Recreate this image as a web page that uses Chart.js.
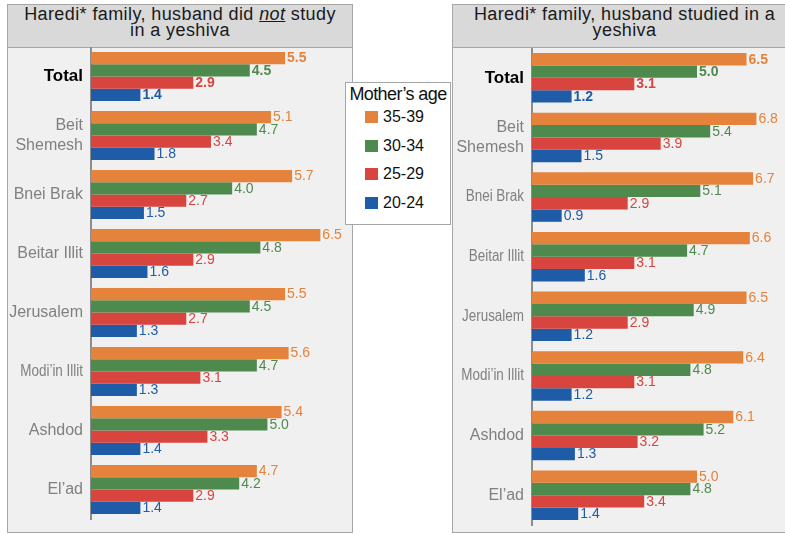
<!DOCTYPE html>
<html>
<head>
<meta charset="utf-8">
<script src="https://cdn.jsdelivr.net/npm/chart.js@4.4.1/dist/chart.umd.min.js"></script>
<style>
  body { margin: 0; width: 785px; height: 534px; background: #fff; position: relative; overflow: hidden;
         font-family: "Liberation Sans", Arial, sans-serif; }
  .panel { position: absolute; top: 4px; height: 529px; border: 1.5px solid #a6a6a6; background: #eff0ef; box-sizing: border-box; }
  .title { height: 43px; background: #d9d9d9; border-bottom: 1.5px solid #a6a6a6; box-sizing: border-box;
           font-size: 18px; line-height: 16px; letter-spacing: 0.4px; text-align: center; color: #1a1a1a; padding-top: 1px; }
  canvas { position: absolute; }
  #legend { position: absolute; left: 345px; top: 82px; width: 106px; height: 143px; background: #fff;
            border: 1px solid #a6a6a6; box-sizing: border-box; }
  #legend .lt { font-size: 18px; color: #111; text-align: center; margin-top: 1px; letter-spacing: -0.6px; }
  #legend .item { position: absolute; left: 19px; font-size: 16px; color: #111; }
  #legend .sw { display: inline-block; width: 13px; height: 12px; vertical-align: -1px; margin-right: 5px; }
</style>
</head>
<body>

<div class="panel" style="left:7px; width:346px;">
  <div class="title">Haredi* family, husband did <u><i>not</i></u> study<br>in a yeshiva</div>
</div>
<div class="panel" style="left:452px; width:345px;">
  <div class="title">Haredi* family, husband studied in a<br>yeshiva</div>
</div>

<canvas id="leftChart" width="343" height="483" style="left:8px; top:47px;"></canvas>
<canvas id="rightChart" width="332" height="483" style="left:453px; top:48px;"></canvas>

<div id="legend"><div class="lt">Mother’s age</div></div>

<script>
// --- Data ---
const cities = ["Total", ["Beit", "Shemesh"], "Bnei Brak", "Beitar Illit", "Jerusalem", "Modi’in Illit", "Ashdod", "El’ad"];
const ageGroups = ["35-39", "30-34", "25-29", "20-24"];
const colors = ["#e5823b", "#4e8a4e", "#d8453f", "#1f5ca7"];

// husband did not study in a yeshiva
const notStudied3539 = [5.5, 5.1, 5.7, 6.5, 5.5, 5.6, 5.4, 4.7];
const notStudied3034 = [4.5, 4.7, 4.0, 4.8, 4.5, 4.7, 5.0, 4.2];
const notStudied2529 = [2.9, 3.4, 2.7, 2.9, 2.7, 3.1, 3.3, 2.9];
const notStudied2024 = [1.4, 1.8, 1.5, 1.6, 1.3, 1.3, 1.4, 1.4];

// husband studied in a yeshiva
const studied3539 = [6.5, 6.8, 6.7, 6.6, 6.5, 6.4, 6.1, 5.0];
const studied3034 = [5.0, 5.4, 5.1, 4.7, 4.9, 4.8, 5.2, 4.8];
const studied2529 = [3.1, 3.9, 2.9, 3.1, 2.9, 3.1, 3.2, 3.4];
const studied2024 = [1.2, 1.5, 0.9, 1.6, 1.2, 1.2, 1.3, 1.4];

// labels that the original squeezes into a narrow face
const narrowLeft = [5];
const narrowRight = [2, 3, 4, 5];

// --- Legend (HTML, shared by both panels) ---
const legendBox = document.getElementById("legend");
ageGroups.forEach((g, i) => {
  const div = document.createElement("div");
  div.className = "item";
  div.style.top = (25 + i * 28.5) + "px";
  div.innerHTML = '<span class="sw" style="background:' + colors[i] + '"></span>' + g;
  legendBox.appendChild(div);
});

// value labels at the bar ends
const valueLabels = {
  id: "valueLabels",
  afterDatasetsDraw(chart) {
    const ctx = chart.ctx;
    ctx.save();
    ctx.textAlign = "left";
    ctx.textBaseline = "middle";
    chart.data.datasets.forEach((ds, di) => {
      const meta = chart.getDatasetMeta(di);
      meta.data.forEach((bar, i) => {
        ctx.font = (i === 0 ? "bold " : "") + "14px 'Liberation Sans', Arial, sans-serif";
        ctx.fillStyle = colors[di];
        ctx.fillText(ds.data[i].toFixed(1), bar.x + 2, bar.y + 0.5);
      });
    });
    ctx.restore();
  }
};

// category labels, drawn at the y scale's tick positions (some condensed)
const cityLabels = {
  id: "cityLabels",
  afterDraw(chart, args, opts) {
    const ctx = chart.ctx;
    const yScale = chart.scales.y;
    const right = chart.chartArea.left - 8;
    ctx.save();
    ctx.textAlign = "right";
    ctx.textBaseline = "middle";
    chart.data.labels.forEach((label, i) => {
      const lines = Array.isArray(label) ? label : [label];
      const y0 = yScale.getPixelForTick(i) - (lines.length - 1) * 10;
      const squash = opts.narrow.includes(i) ? 0.84 : 1;
      ctx.font = i === 0 ? "bold 17px 'Liberation Sans', Arial, sans-serif" : "16px 'Liberation Sans', Arial, sans-serif";
      ctx.fillStyle = i === 0 ? "#000" : "#808080";
      lines.forEach((t, k) => {
        ctx.save();
        ctx.translate(right, y0 + k * 20);
        ctx.scale(squash, 1);
        ctx.fillText(t, 0, 0);
        ctx.restore();
      });
    });
    ctx.restore();
  }
};

function makeChart(id, series, narrow, axisWidth, padRight, padBottom) {
  return new Chart(document.getElementById(id), {
    type: "bar",
    data: {
      labels: cities,
      datasets: series.map((s, i) => ({
        label: ageGroups[i],
        data: s,
        backgroundColor: colors[i],
        borderWidth: 0,
        categoryPercentage: 0.83,
        barPercentage: 1.0
      }))
    },
    options: {
      indexAxis: "y",
      responsive: false,
      animation: false,
      layout: { padding: { top: 0, right: padRight, bottom: padBottom, left: 0 } },
      scales: {
        x: { display: false, min: 0, max: 7 },
        y: {
          grid: { display: false, drawTicks: false },
          border: { display: true, color: "#8c8c8c", width: 2 },
          ticks: { display: false },
          afterFit: (scale) => {
            scale.width = axisWidth;
            scale.paddingTop = 0;
            scale.paddingBottom = 0;
          }
        }
      },
      plugins: {
        legend: { display: false },
        tooltip: { enabled: false },
        cityLabels: { narrow: narrow }
      }
    },
    plugins: [valueLabels, cityLabels]
  });
}

makeChart("leftChart", [notStudied3539, notStudied3034, notStudied2529, notStudied2024], narrowLeft, 83, 13, 11);
makeChart("rightChart", [studied3539, studied3034, studied2529, studied2024], narrowRight, 79, 22, 6);
</script>
</body>
</html>
